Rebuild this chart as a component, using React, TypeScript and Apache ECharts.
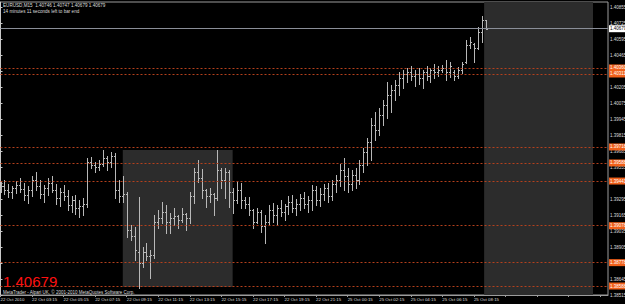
import React, { useEffect, useRef } from 'react';
import * as echarts from 'echarts';

const symbolName = 'EURUSD,M15';
const BASE = 1.38515; // price at bottom of price axis
const AXIS_TOP = 1.40896; // price at top of price axis
const TICK_STEP = 0.0013;

const timeLabels = [
  '22 Oct 2010', '22 Oct 03:15', '22 Oct 05:15', '22 Oct 07:15', '22 Oct 09:15', '22 Oct 11:15',
  '22 Oct 13:15', '22 Oct 15:15', '22 Oct 17:15', '22 Oct 19:15', '22 Oct 21:15', '25 Oct 00:15',
  '25 Oct 02:15', '25 Oct 04:15', '25 Oct 06:15', '25 Oct 08:15',
];
const barsPerLabel = 8;
const lastSlot = 154;

const opens = [
  1.39385, 1.39401, 1.39368, 1.39352, 1.39385, 1.39409, 1.39376, 1.39328, 1.39368, 1.39450,
  1.39401, 1.39336, 1.39385, 1.39425, 1.39368, 1.39303, 1.39352, 1.39320, 1.39246, 1.39287,
  1.39222, 1.39238, 1.39255, 1.39596, 1.39571, 1.39555, 1.39580, 1.39628, 1.39596, 1.39645,
  1.39368, 1.39320, 1.39336, 1.39043, 1.38994, 1.38864, 1.38775, 1.38864, 1.38832, 1.38840,
  1.39108, 1.39141, 1.39190, 1.39108, 1.39141, 1.39157, 1.39125, 1.39173, 1.39141, 1.39320,
  1.39515, 1.39466, 1.39368, 1.39320, 1.39336, 1.39303, 1.39531, 1.39450, 1.39515, 1.39352,
  1.39287, 1.39368, 1.39287, 1.39255, 1.39206, 1.39108, 1.39190, 1.39076, 1.39108, 1.39206,
  1.39165, 1.39222, 1.39190, 1.39238, 1.39271, 1.39222, 1.39255, 1.39303, 1.39255, 1.39287,
  1.39368, 1.39287, 1.39336, 1.39385, 1.39320, 1.39417, 1.39450, 1.39531, 1.39482, 1.39417,
  1.39490, 1.39450, 1.39571, 1.39677, 1.39758, 1.39896, 1.39856, 1.39978, 1.40059, 1.40140,
  1.40181, 1.40221, 1.40278, 1.40311, 1.40327, 1.40295, 1.40311, 1.40278, 1.40327, 1.40295,
  1.40343, 1.40327, 1.40343, 1.40360, 1.40327, 1.40327, 1.40295, 1.40343, 1.40408, 1.40547,
  1.40555, 1.40522, 1.40652, 1.40746,
];
const highs = [
  1.39433, 1.39450, 1.39417, 1.39401, 1.39441, 1.39466, 1.39425, 1.39401, 1.39482, 1.39515,
  1.39450, 1.39409, 1.39466, 1.39482, 1.39417, 1.39385, 1.39409, 1.39368, 1.39320, 1.39328,
  1.39287, 1.39303, 1.39628, 1.39636, 1.39596, 1.39612, 1.39693, 1.39645, 1.39677, 1.39669,
  1.39450, 1.39482, 1.39352, 1.39084, 1.39068, 1.39311, 1.38905, 1.38938, 1.38881, 1.39165,
  1.39206, 1.39271, 1.39246, 1.39181, 1.39222, 1.39165, 1.39222, 1.39181, 1.39352, 1.39547,
  1.39612, 1.39539, 1.39376, 1.39385, 1.39344, 1.39693, 1.39547, 1.39547, 1.39531, 1.39385,
  1.39433, 1.39425, 1.39311, 1.39311, 1.39214, 1.39222, 1.39206, 1.39165, 1.39246, 1.39263,
  1.39246, 1.39287, 1.39255, 1.39320, 1.39328, 1.39295, 1.39336, 1.39352, 1.39320, 1.39409,
  1.39401, 1.39385, 1.39417, 1.39425, 1.39450, 1.39490, 1.39580, 1.39628, 1.39547, 1.39531,
  1.39547, 1.39612, 1.39710, 1.39791, 1.39953, 1.40002, 1.40035, 1.40100, 1.40246, 1.40221,
  1.40262, 1.40327, 1.40343, 1.40360, 1.40376, 1.40343, 1.40360, 1.40343, 1.40376, 1.40360,
  1.40392, 1.40376, 1.40384, 1.40425, 1.40408, 1.40343, 1.40368, 1.40408, 1.40587, 1.40612,
  1.40563, 1.40693, 1.40782, 1.40747,
];
const lows = [
  1.39352, 1.39336, 1.39311, 1.39303, 1.39344, 1.39352, 1.39287, 1.39263, 1.39320, 1.39368,
  1.39303, 1.39271, 1.39328, 1.39352, 1.39255, 1.39238, 1.39287, 1.39206, 1.39190, 1.39173,
  1.39149, 1.39165, 1.39230, 1.39547, 1.39515, 1.39531, 1.39563, 1.39531, 1.39555, 1.39303,
  1.39271, 1.39271, 1.38986, 1.38962, 1.38799, 1.38572, 1.38743, 1.38799, 1.38653, 1.38816,
  1.39059, 1.39100, 1.39019, 1.39019, 1.39084, 1.39059, 1.39108, 1.39043, 1.39100, 1.39263,
  1.39433, 1.39303, 1.39230, 1.39271, 1.39165, 1.39287, 1.39385, 1.39303, 1.39230, 1.39181,
  1.39263, 1.39222, 1.39222, 1.39165, 1.39059, 1.39100, 1.39027, 1.38938, 1.39084, 1.39108,
  1.39092, 1.39157, 1.39125, 1.39173, 1.39190, 1.39165, 1.39206, 1.39222, 1.39190, 1.39206,
  1.39246, 1.39238, 1.39287, 1.39271, 1.39287, 1.39352, 1.39401, 1.39368, 1.39352, 1.39368,
  1.39385, 1.39417, 1.39515, 1.39571, 1.39612, 1.39775, 1.39815, 1.39896, 1.39953, 1.40002,
  1.40100, 1.40140, 1.40197, 1.40246, 1.40262, 1.40213, 1.40230, 1.40197, 1.40262, 1.40246,
  1.40278, 1.40295, 1.40327, 1.40262, 1.40286, 1.40262, 1.40278, 1.40319, 1.40400, 1.40522,
  1.40408, 1.40515, 1.40571, 1.40679,
];
const closes = [
  1.39401, 1.39368, 1.39352, 1.39385, 1.39409, 1.39376, 1.39328, 1.39368, 1.39450, 1.39401,
  1.39336, 1.39385, 1.39425, 1.39368, 1.39303, 1.39352, 1.39320, 1.39246, 1.39287, 1.39222,
  1.39238, 1.39255, 1.39596, 1.39571, 1.39555, 1.39580, 1.39628, 1.39596, 1.39645, 1.39368,
  1.39320, 1.39336, 1.39043, 1.38994, 1.38881, 1.38775, 1.38864, 1.38832, 1.38840, 1.39108,
  1.39141, 1.39190, 1.39108, 1.39141, 1.39157, 1.39125, 1.39173, 1.39141, 1.39320, 1.39515,
  1.39466, 1.39368, 1.39320, 1.39336, 1.39303, 1.39531, 1.39450, 1.39515, 1.39352, 1.39287,
  1.39368, 1.39287, 1.39255, 1.39206, 1.39108, 1.39190, 1.39076, 1.39108, 1.39206, 1.39165,
  1.39222, 1.39190, 1.39238, 1.39271, 1.39222, 1.39255, 1.39303, 1.39255, 1.39287, 1.39368,
  1.39287, 1.39336, 1.39385, 1.39320, 1.39417, 1.39450, 1.39531, 1.39482, 1.39417, 1.39490,
  1.39450, 1.39571, 1.39677, 1.39758, 1.39896, 1.39856, 1.39978, 1.40059, 1.40140, 1.40181,
  1.40221, 1.40278, 1.40311, 1.40327, 1.40295, 1.40311, 1.40278, 1.40327, 1.40295, 1.40343,
  1.40327, 1.40343, 1.40360, 1.40327, 1.40376, 1.40295, 1.40343, 1.40392, 1.40547, 1.40571,
  1.40522, 1.40652, 1.40750, 1.40679,
];

const levelPrices = [1.4036, 1.40311, 1.39718, 1.39588, 1.39441, 1.39078, 1.38778, 1.38588];
// rectangle objects: [from bar, top price, to bar, bottom price]
const rangeBox = [31, 1.39693, 58.85, 1.3858];
const futureBox = [122.6, 150.2];
const timeLeft = '+14:11';

const BAR = '#b8b8b8';
const FRAME = '#9c9c9c';
const TEXT = '#dcdcdc';
const FONT = 'Liberation Sans, Arial, sans-serif';

const toPts = (p: number) => Math.round((p - BASE) * 1e5);
const fmt = (v: number) => ((v + BASE * 1e5) / 1e5).toFixed(5);

export default function App() {
  const ref = useRef<HTMLDivElement>(null);
  useEffect(() => {
    const chart = echarts.init(ref.current!, null, { renderer: 'svg' });
    const last = closes.length - 1;
    const data = opens.map((o, i) => [i, toPts(o), toPts(highs[i]), toPts(lows[i]), toPts(closes[i])]);
    // price labels that sit under a level's tag are covered in the terminal
    const coveredBy = [...levelPrices, closes[last]].map(toPts);
    const option: any = {
      animation: false,
      backgroundColor: '#000',
      grid: {
        left: 0.5, right: 17, top: 2, bottom: 9,
        show: true, borderColor: FRAME, borderWidth: 1, backgroundColor: '#000',
        containLabel: false, outerBoundsMode: 'none',
      },
      xAxis: {
        type: 'value', min: 0, max: lastSlot, interval: barsPerLabel,
        splitLine: { show: false },
        axisLine: { show: true, lineStyle: { color: FRAME } },
        axisTick: { show: true, length: 2, lineStyle: { color: FRAME } },
        axisLabel: {
          color: TEXT, fontSize: 4.4, fontFamily: FONT, align: 'left', margin: 2,
          showMaxLabel: false, hideOverlap: false,
          formatter: (v: number) => {
            const k = v / barsPerLabel;
            return Number.isInteger(k) && k < timeLabels.length ? timeLabels[k] : '';
          },
        },
      },
      yAxis: {
        type: 'value', position: 'right', min: 0, max: toPts(AXIS_TOP),
        interval: Math.round(TICK_STEP * 1e5),
        splitLine: { show: false },
        axisLine: { show: true, lineStyle: { color: '#c8c8c8' } },
        axisTick: { show: true, length: 2, lineStyle: { color: '#c8c8c8' } },
        axisLabel: {
          color: TEXT, fontSize: 4.5, fontFamily: FONT, margin: 2,
          showMaxLabel: false,
          formatter: (v: number) => (coveredBy.some((c) => Math.abs(c - v) < 30) ? '' : fmt(v)),
        },
      },
      series: [
        {
          type: 'line', data: [], z: 1, silent: true,
          markArea: {
            silent: true,
            itemStyle: { color: '#2c2c2c', opacity: 1, borderWidth: 0 },
            data: [
              [{ xAxis: rangeBox[0], yAxis: toPts(rangeBox[1]) }, { xAxis: rangeBox[2], yAxis: toPts(rangeBox[3]) }],
              [{ xAxis: futureBox[0] }, { xAxis: futureBox[1] }],
            ],
          },
        },
        {
          type: 'custom', z: 3, silent: true,
          data,
          encode: { x: 0, y: [1, 2, 3, 4] },
          renderItem: (params: any, api: any) => {
            const i = api.value(0);
            const po = api.coord([i, api.value(1)]);
            const ph = api.coord([i, api.value(2)]);
            const pl = api.coord([i, api.value(3)]);
            const pc = api.coord([i, api.value(4)]);
            const k = Math.round(po[0]);
            const x = k + 0.5;
            const yo = Math.round(po[1]) + 0.5;
            const yc = Math.round(pc[1]) + 0.5;
            const st = { stroke: BAR, lineWidth: 1 };
            return {
              type: 'group',
              children: [
                { type: 'line', shape: { x1: x, y1: Math.round(ph[1]), x2: x, y2: Math.round(pl[1]) + 1 }, style: st },
                { type: 'line', shape: { x1: k - 1, y1: yo, x2: k, y2: yo }, style: st },
                { type: 'line', shape: { x1: k + 1, y1: yc, x2: k + 2, y2: yc }, style: st },
              ],
            };
          },
        },
        {
          type: 'line', data: [], z: 5, silent: true,
          markLine: {
            silent: true, symbol: 'none',
            data: [
              ...levelPrices.map((p) => ({
                yAxis: toPts(p),
                lineStyle: { type: [2, 2], color: '#b4401c', width: 1 },
                label: {
                  show: true, position: 'end', distance: 1, formatter: () => p.toFixed(5),
                  color: '#fff', backgroundColor: '#f0601a', fontSize: 4.5, fontFamily: FONT, padding: [1, 1],
                },
              })),
              {
                yAxis: toPts(closes[last]),
                lineStyle: { type: 'solid', color: '#8a8e98', width: 1 },
                label: {
                  show: true, position: 'end', distance: 1, formatter: () => closes[last].toFixed(5),
                  color: '#000', backgroundColor: '#fff', fontSize: 4.5, fontFamily: FONT, padding: [1, 1],
                },
              },
            ],
          },
        },
      ],
      graphic: [
        {
          type: 'text', left: 3, top: 3, silent: true,
          style: {
            text: `${symbolName}  ${opens[last].toFixed(5)} ${highs[last].toFixed(5)} ${lows[last].toFixed(5)} ${closes[last].toFixed(5)}`,
            fill: TEXT, fontSize: 4.6, fontFamily: FONT,
          },
        },
        {
          type: 'text', left: 3, top: 8.5, silent: true,
          style: { text: '14 minutes 11 seconds left to bar end', fill: TEXT, fontSize: 4.6, fontFamily: FONT },
        },
        {
          type: 'text', left: 490, top: 25, silent: true,
          style: { text: timeLeft, fill: '#c8c83c', fontSize: 4.6, fontFamily: FONT },
        },
        {
          type: 'text', left: 3, top: 273.5, silent: true,
          style: { text: closes[last].toFixed(5), fill: '#ff1010', fontSize: 15, fontFamily: FONT },
        },
        {
          type: 'text', left: 3, top: 289.8, silent: true,
          style: {
            text: 'MetaTrader - Alpari UK, \u00a9 2001-2010 MetaQuotes Software Corp.',
            fill: TEXT, fontSize: 4.5, fontFamily: FONT,
          },
        },
      ],
    };
    chart.setOption(option);
    return () => chart.dispose();
  }, []);
  return (
    <div
      ref={ref}
      style={{ position: 'fixed', left: 0, top: 0, width: 625, height: 304, background: '#000' }}
    />
  );
}
